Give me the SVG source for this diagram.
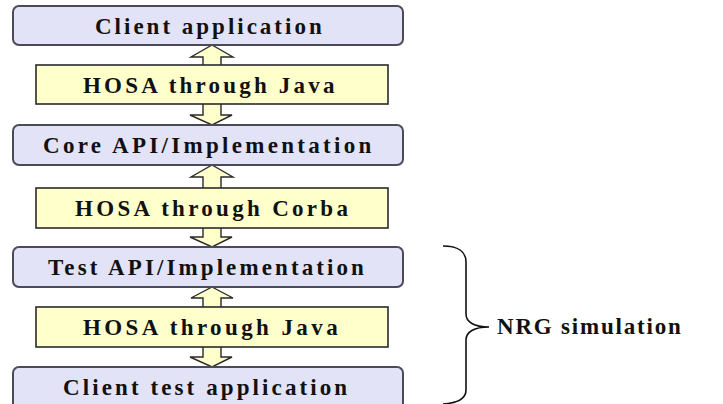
<svg xmlns="http://www.w3.org/2000/svg" width="723" height="404" viewBox="0 0 723 404">
  <style>
    .box { fill: #E3E3F8; stroke: #4A4A58; stroke-width: 2; }
    .ybox { fill: #FFFFCC; stroke: #2A2A2A; stroke-width: 1.6; }
    .arrow { fill: #FFFFCC; stroke: #2A2A2A; stroke-width: 1.4; stroke-linejoin: miter; }
    .brace { fill: none; stroke: #111; stroke-width: 1.6; }
    .t { font-family: 'Liberation Serif', 'Times New Roman', serif; font-size: 23px; font-weight: bold; fill: #111111; }
  </style>
  <rect width="723" height="404" fill="#FFFFFF"/>

  <g id="connectors">
    <polygon class="arrow" points="212,45 233,57 221,57 221,115 232,115 212,125 190,115 203,115 203,57 191,57"/>
    <polygon class="arrow" points="212,165 233,177 221,177 221,237 232,237 212,247 190,237 203,237 203,177 191,177"/>
    <polygon class="arrow" points="212,287 233,298 221,298 221,357 232,357 212,367 190,357 203,357 203,298 191,298"/>
  </g>

  <g id="client-application">
    <rect class="box" x="13" y="6" width="390" height="39" rx="6"/>
    <text class="t" x="95" y="34" letter-spacing="3">Client application</text>
  </g>
  <g id="hosa-java-1">
    <rect class="ybox" x="36" y="65" width="352" height="39"/>
    <text class="t" x="83" y="93" letter-spacing="3.2">HOSA through Java</text>
  </g>
  <g id="core-api">
    <rect class="box" x="13" y="125" width="390" height="40" rx="6"/>
    <text class="t" x="43" y="153" letter-spacing="3.3">Core API/Implementation</text>
  </g>
  <g id="hosa-corba">
    <rect class="ybox" x="36" y="188" width="352" height="40"/>
    <text class="t" x="75" y="216" letter-spacing="3.3">HOSA through Corba</text>
  </g>
  <g id="test-api">
    <rect class="box" x="13" y="247" width="390" height="40" rx="6"/>
    <text class="t" x="48" y="275" letter-spacing="3.1">Test API/Implementation</text>
  </g>
  <g id="hosa-java-2">
    <rect class="ybox" x="36" y="307" width="352" height="40"/>
    <text class="t" x="83" y="335" letter-spacing="3.4">HOSA through Java</text>
  </g>
  <g id="client-test-application">
    <rect class="box" x="13" y="367" width="390" height="42" rx="6"/>
    <text class="t" x="63" y="395" letter-spacing="3.1">Client test application</text>
  </g>

  <g id="nrg-simulation">
    <path class="brace" d="M443,246 C458,246 466,252 466,262 L466,314 C466,322 474,327 489,327 C474,327 466,332 466,340 L466,390 C466,398 458,403 443,404"/>
    <text class="t" x="497" y="334" letter-spacing="1.8">NRG simulation</text>
  </g>
</svg>
